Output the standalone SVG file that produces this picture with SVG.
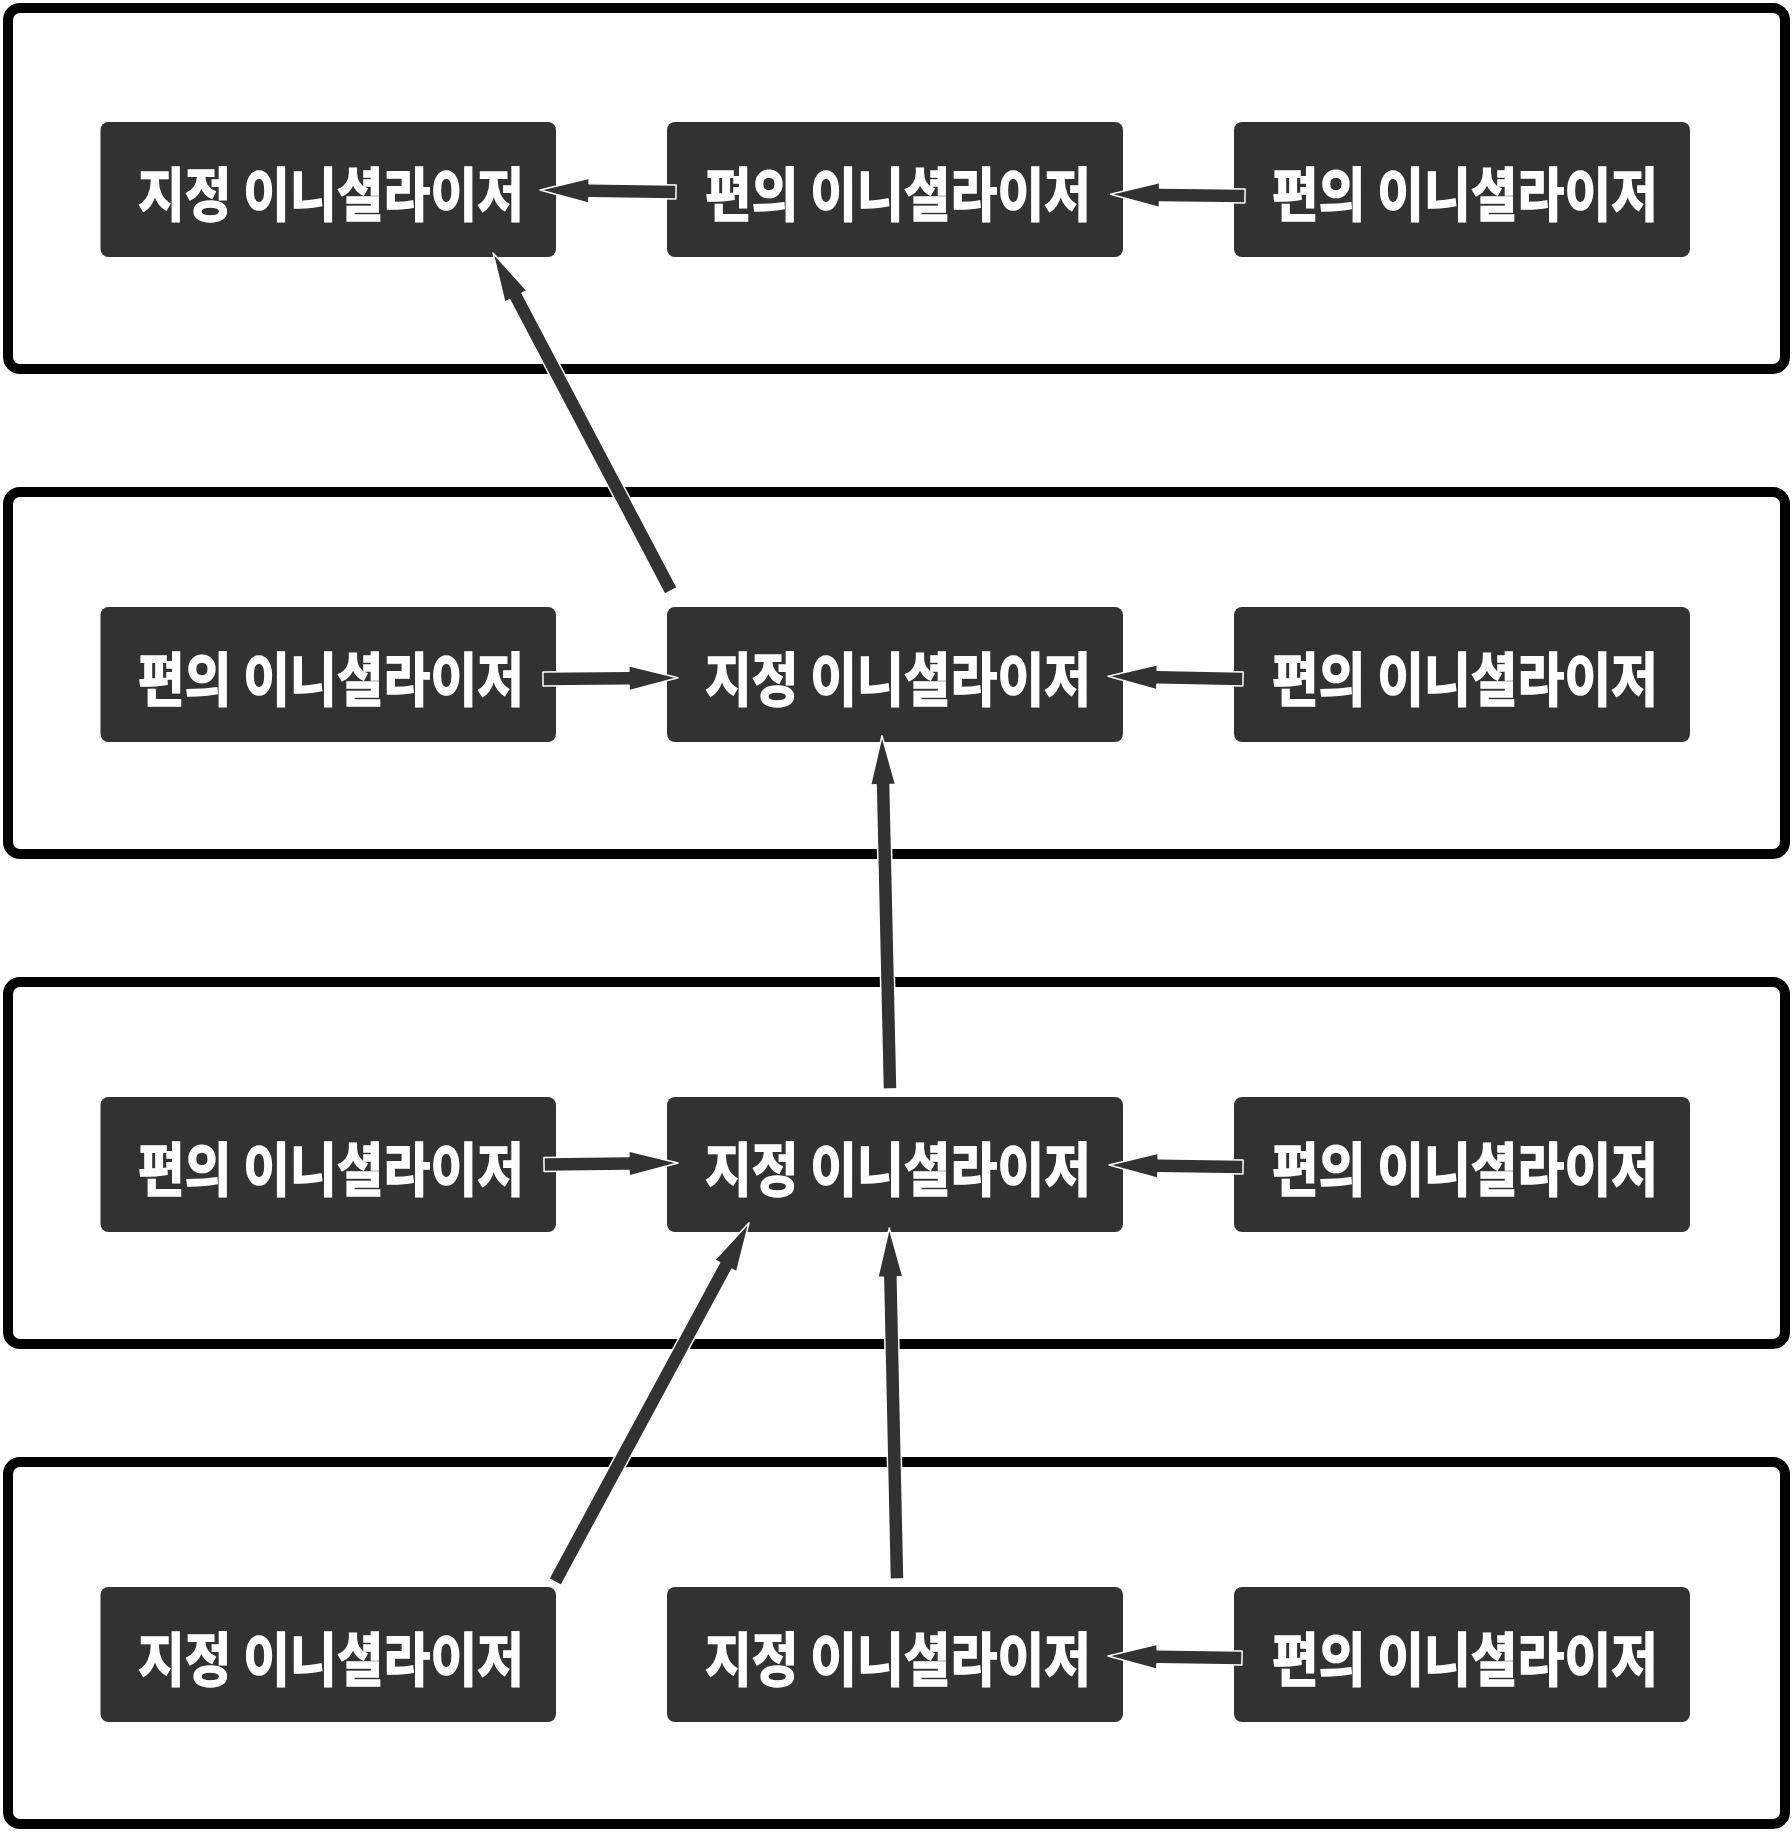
<svg xmlns="http://www.w3.org/2000/svg" width="1792" height="1832" viewBox="0 0 1792 1832">
<style>
.frame{fill:none;stroke:#000;stroke-width:10}
.node rect{fill:#323232}
.node text{fill:#fff;stroke:#fff;stroke-width:1.6;font-family:"Noto Sans CJK KR","Noto Sans",sans-serif;font-weight:700;font-size:58px;text-anchor:middle}
.arrow{fill:#323232;stroke:#fff;stroke-width:1.5;stroke-linejoin:round}
</style>
<rect width="1792" height="1832" fill="#fff"/>
<g id="frames">
<rect class="frame" x="8" y="8" width="1777" height="361" rx="12"/>
<rect class="frame" x="8" y="492" width="1777" height="362" rx="12"/>
<rect class="frame" x="8" y="982" width="1777" height="362" rx="12"/>
<rect class="frame" x="8" y="1462" width="1777" height="362" rx="12"/>
</g>
<g id="n1" class="node"><rect x="100.5" y="122" width="455.5" height="135" rx="8"/><text x="331" y="216" textLength="386" lengthAdjust="spacingAndGlyphs">지정 이니셜라이저</text></g>
<g id="n2" class="node"><rect x="667" y="122" width="456" height="135" rx="8"/><text x="898" y="216" textLength="386" lengthAdjust="spacingAndGlyphs">편의 이니셜라이저</text></g>
<g id="n3" class="node"><rect x="1234" y="122" width="456" height="135" rx="8"/><text x="1465" y="216" textLength="386" lengthAdjust="spacingAndGlyphs">편의 이니셜라이저</text></g>
<g id="n4" class="node"><rect x="100.5" y="607" width="455.5" height="135" rx="8"/><text x="331" y="701" textLength="386" lengthAdjust="spacingAndGlyphs">편의 이니셜라이저</text></g>
<g id="n5" class="node"><rect x="667" y="607" width="456" height="135" rx="8"/><text x="898" y="701" textLength="386" lengthAdjust="spacingAndGlyphs">지정 이니셜라이저</text></g>
<g id="n6" class="node"><rect x="1234" y="607" width="456" height="135" rx="8"/><text x="1465" y="701" textLength="386" lengthAdjust="spacingAndGlyphs">편의 이니셜라이저</text></g>
<g id="n7" class="node"><rect x="100.5" y="1097" width="455.5" height="135" rx="8"/><text x="331" y="1191" textLength="386" lengthAdjust="spacingAndGlyphs">편의 이니셜라이저</text></g>
<g id="n8" class="node"><rect x="667" y="1097" width="456" height="135" rx="8"/><text x="898" y="1191" textLength="386" lengthAdjust="spacingAndGlyphs">지정 이니셜라이저</text></g>
<g id="n9" class="node"><rect x="1234" y="1097" width="456" height="135" rx="8"/><text x="1465" y="1191" textLength="386" lengthAdjust="spacingAndGlyphs">편의 이니셜라이저</text></g>
<g id="n10" class="node"><rect x="100.5" y="1587" width="455.5" height="135" rx="8"/><text x="331" y="1681" textLength="386" lengthAdjust="spacingAndGlyphs">지정 이니셜라이저</text></g>
<g id="n11" class="node"><rect x="667" y="1587" width="456" height="135" rx="8"/><text x="898" y="1681" textLength="386" lengthAdjust="spacingAndGlyphs">지정 이니셜라이저</text></g>
<g id="n12" class="node"><rect x="1234" y="1587" width="456" height="135" rx="8"/><text x="1465" y="1681" textLength="386" lengthAdjust="spacingAndGlyphs">편의 이니셜라이저</text></g>
<g id="connectors">
<path class="arrow" transform="translate(676,192) rotate(180.84)" d="M0,-7H87V-12.5L136,0L87,12.5V7H0Z"/>
<path class="arrow" transform="translate(1245,196) rotate(180.72)" d="M0,-7H85.5V-12.5L134.5,0L85.5,12.5V7H0Z"/>
<path class="arrow" transform="translate(671,591) rotate(242.23)" d="M0,-7H333V-12.5L382,0L333,12.5V7H0Z"/>
<path class="arrow" transform="translate(543,679) rotate(-0.55)" d="M0,-7H86V-12.5L135,0L86,12.5V7H0Z"/>
<path class="arrow" transform="translate(1243,679) rotate(181.19)" d="M0,-7H86V-12.5L135,0L86,12.5V7H0Z"/>
<path class="arrow" transform="translate(890,1089) rotate(268.70)" d="M0,-7H304.4V-12.5L353.4,0L304.4,12.5V7H0Z"/>
<path class="arrow" transform="translate(544,1164.5) rotate(-0.64)" d="M0,-7H85V-12.5L134,0L85,12.5V7H0Z"/>
<path class="arrow" transform="translate(1243,1167) rotate(180.86)" d="M0,-7H85V-12.5L134,0L85,12.5V7H0Z"/>
<path class="arrow" transform="translate(555,1582) rotate(-61.63)" d="M0,-7H359.3V-12.5L408.3,0L359.3,12.5V7H0Z"/>
<path class="arrow" transform="translate(897,1579) rotate(268.74)" d="M0,-7H302.1V-12.5L351.1,0L302.1,12.5V7H0Z"/>
<path class="arrow" transform="translate(1242,1658) rotate(180.86)" d="M0,-7H85V-12.5L134,0L85,12.5V7H0Z"/>
</g>
</svg>
